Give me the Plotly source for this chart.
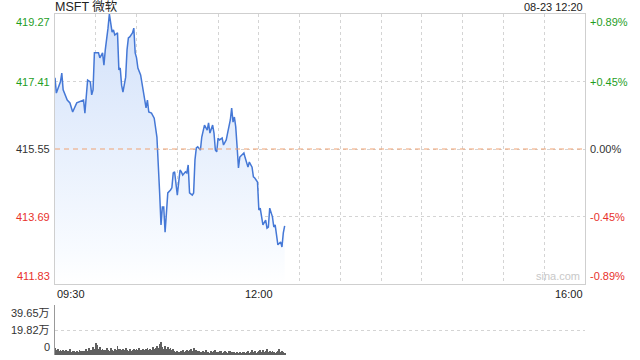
import plotly.graph_objects as go
from datetime import datetime, timedelta

title_text = "MSFT 微软"
stamp_text = "08-23 12:20"
watermark = "sina.com"
prev_close = 415.55

# minutes after 09:30 and price
price_minutes = [0, 1, 4, 5, 6, 9, 11, 13, 16, 18, 21, 22, 24, 26, 27, 28, 29, 32, 33, 35,
                 36, 37, 38, 39, 40, 42, 43, 44, 46, 47, 48, 49, 50, 52, 53, 54, 55, 57, 58, 59,
                 60, 61, 63, 65, 67, 68, 69, 71, 73, 75, 76, 77, 78, 79, 80, 81, 82, 83, 85, 86,
                 87, 88, 90, 91, 92, 93, 94, 96, 97, 98, 99, 101, 102, 103, 104, 105, 107, 108, 109, 110,
                 112, 113, 114, 116, 117, 118, 119, 120, 121, 123, 124, 126, 127, 129, 130, 131, 132, 133, 134, 135,
                 136, 138, 139, 140, 141, 142, 143, 145, 146, 147, 149, 150, 151, 152, 153, 155, 156, 157, 158, 160,
                 161, 162, 163, 164, 166, 167, 168, 169]
prices = [417.51, 417.09, 417.40, 417.64, 417.18, 416.90, 416.82, 416.57, 416.82, 416.85,
          416.90, 416.54, 417.45, 417.40, 417.04, 417.18, 418.20, 418.20, 418.06, 418.20,
          417.86, 418.28, 418.55, 418.88, 419.27, 418.77, 418.83, 418.69, 418.75, 417.73,
          417.78, 417.31, 417.12, 417.53, 418.28, 418.61, 418.64, 418.75, 418.88, 418.20,
          418.06, 417.78, 417.59, 417.09, 416.68, 416.90, 416.57, 416.54, 416.40, 415.88,
          415.25, 414.34, 413.46, 413.95, 413.95, 413.26, 413.79, 414.34, 414.42, 414.48,
          414.89, 414.92, 414.28, 414.61, 414.97, 414.92, 414.83, 414.92, 414.89, 415.11,
          414.34, 414.28, 414.34, 415.25, 415.58, 415.61, 415.52, 415.88, 416.07, 416.21,
          416.07, 416.27, 415.99, 416.21, 415.99, 415.52, 415.47, 415.85, 415.80, 415.85,
          415.66, 415.80, 415.99, 416.35, 416.68, 416.29, 416.43, 416.16, 415.61, 415.03,
          415.33, 415.39, 415.44, 415.30, 415.19, 415.05, 415.19, 415.05, 414.78, 414.75,
          414.64, 413.87, 413.92, 413.73, 413.46, 413.59, 413.37, 413.40, 413.92, 413.68,
          413.40, 413.46, 413.18, 412.91, 412.99, 412.85, 413.24, 413.43]

# per-minute volume in 万 shares (09:30 .. 12:19)
volume_wan = [5.5, 3.8, 4.6, 3.5, 4.2, 3.2, 4.0, 2.9, 3.6, 3.0,
              2.8, 4.5, 2.5, 3.1, 3.4, 2.6, 3.0, 2.7, 4.1, 3.2,
              2.9, 3.5, 3.0, 4.8, 3.2, 5.2, 3.6, 4.0, 6.0, 4.5,
              9.5, 8.0, 4.5, 6.2, 3.8, 5.0, 4.2, 3.6, 5.5, 4.0,
              3.5, 5.8, 4.2, 3.5, 4.6, 3.8, 7.5, 5.0, 4.8, 3.9,
              4.5, 3.6, 5.2, 4.0, 3.3, 4.8, 3.5, 4.2, 5.0, 3.6,
              4.4, 3.8, 5.5, 4.0, 3.5, 4.9, 3.7, 4.5, 5.8, 4.1,
              5.0, 4.2, 6.0, 4.5, 5.2, 7.0, 5.5, 8.5, 10.5, 6.5,
              5.0, 7.5, 4.8, 6.0, 4.5, 5.2, 3.8, 4.6, 3.0, 2.6,
              3.4, 2.5, 2.2, 3.0, 4.0, 2.6, 3.5, 4.2, 2.8, 3.6,
              4.5, 3.0, 5.2, 3.5, 4.0, 2.8, 3.2, 2.5, 2.0, 3.0,
              2.4, 3.8, 2.6, 2.2, 1.8, 3.0, 2.4, 3.2, 4.0, 2.5,
              2.0, 3.5, 2.8, 1.8, 2.5, 3.2, 2.2, 1.6, 2.8, 3.5,
              2.5, 1.8, 2.2, 1.6, 2.0, 1.5, 2.4, 1.8, 2.6, 2.2,
              1.6, 2.0, 3.0, 1.8, 2.5, 3.6, 2.2, 2.8, 1.5, 2.0,
              3.2, 4.2, 2.5, 3.8, 2.2, 3.0, 4.5, 2.6, 3.4, 2.0,
              2.8, 2.2, 1.8, 2.5, 3.2, 4.5, 2.5, 3.0, 2.2, 1.2]

price_ticks = [419.27, 417.41, 415.55, 413.69, 411.83]
price_tick_colors = ["#1f9e1f", "#1f9e1f", "#333333", "#e8312b", "#e8312b"]
pct_labels = ["+0.89%", "+0.45%", "0.00%", "-0.45%", "-0.89%"]
vol_ticks = [39.65, 19.82, 0]
vol_tick_labels = ["39.65万", "19.82万", "0"]
x_tick_labels = ["09:30", "12:00", "16:00"]

base = datetime(2024, 8, 23, 9, 30)
t_price = [base + timedelta(minutes=m) for m in price_minutes]
t_vol = [base + timedelta(minutes=i) for i in range(len(volume_wan))]
x_start = base
x_end = datetime(2024, 8, 23, 16, 0)

FONT = "Liberation Sans, Arial, Noto Sans CJK SC, sans-serif"
GRID = "#d4d4d4"
LINE = "#cfcfcf"

fig = go.Figure()
fig.add_trace(go.Scatter(
    x=t_price, y=prices, mode="lines",
    line=dict(color="#4578d6", width=1.5),
    fill="tozeroy",
    fillgradient=dict(type="vertical", start=411.83, stop=419.27,
                      colorscale=[[0, "rgba(255,255,255,1)"], [0.12, "rgba(248,251,255,1)"],
                                  [1, "rgba(210,225,250,1)"]]),
    xaxis="x", yaxis="y", hoverinfo="skip", showlegend=False))
fig.add_trace(go.Bar(
    x=t_vol, y=volume_wan, marker=dict(color="#606060", line=dict(width=0)),
    width=36000, xaxis="x2", yaxis="y2", hoverinfo="skip", showlegend=False))

top_px, bot_px = 14, 5
H = 360
plot_h = H - top_px - bot_px
def pfrac(py):
    return (H - bot_px - py) / plot_h

fig.update_layout(
    width=640, height=360,
    margin=dict(l=55, r=55, t=top_px, b=bot_px),
    paper_bgcolor="white", plot_bgcolor="rgba(0,0,0,0)",
    font=dict(family=FONT, size=11, color="#333"),
    bargap=0,
    xaxis=dict(type="date", range=[x_start, x_end], domain=[0, 1], anchor="y",
               showticklabels=False, ticks="", tick0=x_start, dtick=30 * 60 * 1000,
               showgrid=True, gridcolor=GRID, griddash="dot", gridwidth=1,
               showline=True, linecolor=LINE, mirror=True, zeroline=False),
    yaxis=dict(range=[price_ticks[-1], price_ticks[0]], domain=[pfrac(284), 1], anchor="x",
               showticklabels=False, ticks="", tickvals=price_ticks,
               showgrid=True, gridcolor=GRID, griddash="dot", gridwidth=1,
               showline=True, linecolor=LINE, mirror=True, zeroline=False),
    xaxis2=dict(type="date", range=[x_start, x_end], domain=[0, 1], anchor="y2",
                showticklabels=False, ticks="", showgrid=False, showline=False, zeroline=False),
    yaxis2=dict(range=[0, vol_ticks[0]], domain=[0, pfrac(305)], anchor="x2",
                showticklabels=False, ticks="", tickvals=vol_ticks,
                showgrid=True, gridcolor=GRID, griddash="dot", gridwidth=1,
                showline=True, linecolor="#999", zeroline=False),
)

# previous close dashed line
fig.add_shape(type="line", xref="x domain", yref="y", x0=0, x1=1, y0=prev_close, y1=prev_close,
              line=dict(color="#f0a273", width=1, dash="5px,4px"))

ann = []
n = len(price_ticks)
for i, (v, c, p) in enumerate(zip(price_ticks, price_tick_colors, pct_labels)):
    ya = "top" if i == 0 else ("bottom" if i == n - 1 else "middle")
    ann.append(dict(xref="paper", yref="y", x=0, y=v, text=v.__format__(".2f"), showarrow=False,
                    xanchor="right", yanchor=ya, xshift=-3, font=dict(color=c, size=11)))
    ann.append(dict(xref="paper", yref="y", x=1, y=v, text=p, showarrow=False,
                    xanchor="left", yanchor=ya, xshift=3, font=dict(color=c, size=11)))
for i, (v, t) in enumerate(zip(vol_ticks, vol_tick_labels)):
    ya = "top" if i == 0 else ("bottom" if i == len(vol_ticks) - 1 else "middle")
    ann.append(dict(xref="paper", yref="y2", x=0, y=v, text=t, showarrow=False,
                    xanchor="right", yanchor=ya, xshift=-3, font=dict(color="#333", size=11)))
x_tick_pos = [x_start, datetime(2024, 8, 23, 12, 0), x_end]
for i, (xv, t) in enumerate(zip(x_tick_pos, x_tick_labels)):
    xa = "left" if i == 0 else ("right" if i == len(x_tick_pos) - 1 else "center")
    ann.append(dict(xref="x", yref="paper", x=xv, y=pfrac(284), text=t, showarrow=False,
                    xanchor=xa, yanchor="top", yshift=-2, font=dict(color="#222", size=11)))
ann.append(dict(xref="paper", yref="paper", x=0, y=1, text=title_text, showarrow=False,
                xanchor="left", yanchor="middle", yshift=7, xshift=-2,
                font=dict(color="#222", size=12.5)))
ann.append(dict(xref="paper", yref="paper", x=1, y=1, text=stamp_text, showarrow=False,
                xanchor="right", yanchor="middle", yshift=7, font=dict(color="#222", size=11)))
ann.append(dict(xref="paper", yref="y", x=0.995, y=price_ticks[-1], text=watermark, showarrow=False,
                xanchor="right", yanchor="bottom", yshift=0, font=dict(color="#c8c8c8", size=11)))
fig.update_layout(annotations=ann)

fig.write_html("out.html")
